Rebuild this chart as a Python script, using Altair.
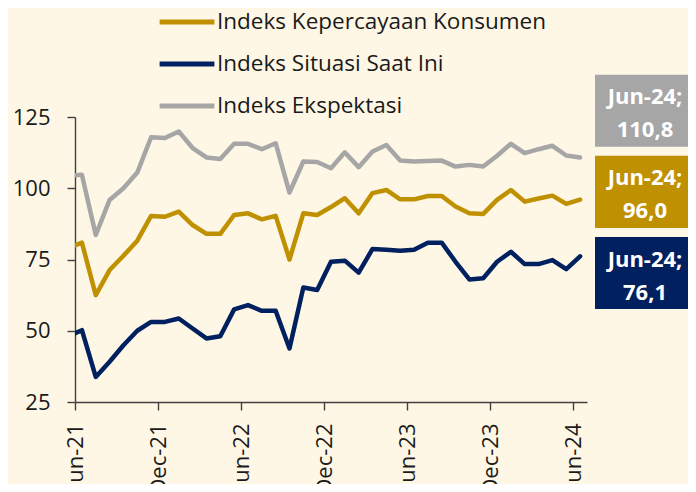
import altair as alt
import pandas as pd

# ---- data ----
months = ["May-21",
          "Jun-21", "Jul-21", "Aug-21", "Sep-21", "Oct-21", "Nov-21", "Dec-21",
          "Jan-22", "Feb-22", "Mar-22", "Apr-22", "May-22", "Jun-22", "Jul-22",
          "Aug-22", "Sep-22", "Oct-22", "Nov-22", "Dec-22", "Jan-23", "Feb-23",
          "Mar-23", "Apr-23", "May-23", "Jun-23", "Jul-23", "Aug-23", "Sep-23",
          "Oct-23", "Nov-23", "Dec-23", "Jan-24", "Feb-24", "Mar-24", "Apr-24",
          "May-24", "Jun-24"]

kepercayaan = [79.0,
               80.9, 62.5, 71.3, 76.3, 81.6, 90.3, 90.0, 91.8, 87.1, 84.0,
               84.0, 90.6, 91.2, 89.1, 90.3, 75.0, 91.2, 90.6, 93.4, 96.5,
               91.2, 98.3, 99.4, 96.1, 96.1, 97.3, 97.3, 93.6, 91.2, 91.0,
               95.9, 99.4, 95.3, 96.4, 97.4, 94.5, 96.0]

situasi = [48.0,
           50.2, 33.8, 39.1, 44.9, 50.0, 53.1, 53.1, 54.3, 50.8, 47.3,
           48.1, 57.5, 59.0, 57.0, 57.0, 43.8, 65.2, 64.3, 74.2, 74.6,
           70.4, 78.7, 78.4, 78.1, 78.4, 80.9, 80.9, 74.2, 68.0, 68.4,
           74.2, 77.7, 73.4, 73.4, 74.8, 71.6, 76.1]

ekspektasi = [104.5,
              104.7, 83.6, 95.9, 100.0, 105.5, 117.9, 117.6, 119.9, 114.1, 110.8,
              110.3, 115.6, 115.6, 113.7, 115.8, 98.5, 109.4, 109.2, 107.0, 112.6,
              107.4, 112.9, 115.2, 109.7, 109.4, 109.6, 109.7, 107.6, 108.2, 107.6,
              111.4, 115.6, 112.3, 113.7, 114.9, 111.5, 110.8]

series_names = ["Indeks Kepercayaan Konsumen", "Indeks Situasi Saat Ini", "Indeks Ekspektasi"]
series_colors = ["#BF9000", "#002060", "#A6A6A6"]

tick_labels = ["Jun-21", "Dec-21", "Jun-22", "Dec-22", "Jun-23", "Dec-23", "Jun-24"]

end_labels = ["Jun-24;\n96,0", "Jun-24;\n76,1", "Jun-24;\n110,8"]

# layout constants for the end-of-line label boxes (y centre in data units)
box_centers = [98.7, 70.25, 127.2]
box_half = 12.66

# ---- build tables ----
rows = []
for name, vals in zip(series_names, [kepercayaan, situasi, ekspektasi]):
    for i, (m, v) in enumerate(zip(months, vals)):
        # month index relative to Jun-21 boundary; point at mid-month
        rows.append({"series": name, "month": m, "x": i - 1 + 0.5, "value": v})
df = pd.DataFrame(rows)

lab = pd.DataFrame({
    "series": series_names,
    "text": end_labels,
    "center": box_centers,
    "top": [c + box_half for c in box_centers],
    "bottom": [c - box_half for c in box_centers],
    "fill": series_colors,
})

FONT = "Open Sans"
TXT = "#1a1a1a"
AX = "#404040"

label_expr = "[" + ",".join(f"'{t}'" for t in tick_labels) + "][round(datum.value/6)]"

x_enc = alt.X("x:Q",
              scale=alt.Scale(domain=[0, 37], nice=False, zero=False),
              axis=alt.Axis(values=[0, 6, 12, 18, 24, 30, 36], labelExpr=label_expr,
                            labelAngle=-90, labelFontSize=22, labelPadding=13,
                            tickSize=8, title=None, grid=False))
y_scale = alt.Scale(domain=[25, 125], nice=False, zero=False)

lines = alt.Chart(df).mark_line(strokeWidth=4.5, strokeJoin="round", strokeCap="round",
                                clip=True).encode(
    x=x_enc,
    y=alt.Y("value:Q", scale=y_scale,
            axis=alt.Axis(values=[25, 50, 75, 100, 125], labelFontSize=22,
                          labelPadding=17, tickSize=8, title=None, grid=False)),
    color=alt.Color("series:N",
                    scale=alt.Scale(domain=series_names, range=series_colors),
                    sort=series_names,
                    legend=alt.Legend(orient="none", legendX=82, legendY=-125,
                                      title=None, symbolType="stroke",
                                      symbolStrokeWidth=5, symbolSize=3000,
                                      labelFontSize=22.5, labelColor=TXT,
                                      rowPadding=-1, labelOffset=0,
                                      direction="vertical", labelLimit=500)),
    order=alt.Order("x:Q"),
)

boxes = alt.Chart(lab).mark_rect().encode(
    x=alt.value(520), x2=alt.value(621),
    y=alt.Y("top:Q", scale=y_scale), y2="bottom:Q",
    fill=alt.Fill("fill:N", scale=None),
)

texts = alt.Chart(lab).mark_text(color="white", fontWeight="bold", fontSize=22,
                                 lineBreak="\n", lineHeight=33, align="center",
                                 baseline="middle", dy=-13.5, font=FONT).encode(
    x=alt.value(570),
    y=alt.Y("center:Q", scale=y_scale),
    text="text:N",
)

chart = alt.layer(lines, boxes, texts).properties(
    width=512, height=285,
    background="#FEF7E5",
    autosize=alt.AutoSizeParams(type="none"),
    padding={"left": 67, "top": 109, "right": 101, "bottom": 82},
).configure_view(stroke=None).configure_axis(
    domainColor=AX, tickColor=AX, domainWidth=1.4, tickWidth=1.4,
    labelColor=TXT, labelFont=FONT,
).configure_legend(labelFont=FONT).configure_text(font=FONT)

chart.save("out.html", embed_options={"renderer": "svg", "actions": False})
